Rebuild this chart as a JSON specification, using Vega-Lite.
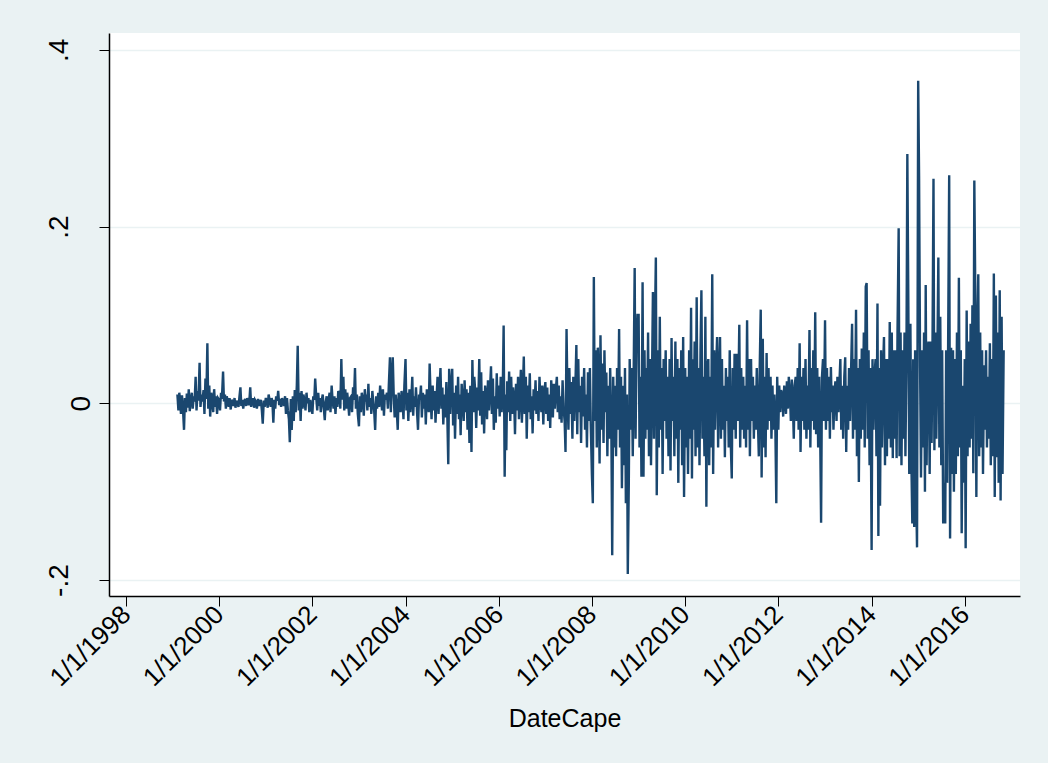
{
"$schema":"https://vega.github.io/schema/vega-lite/v6.json",
"width":911,"height":563,
"autosize":{"type":"none"},
"padding":{"left":109,"top":33,"right":28,"bottom":167},
"background":"#EAF2F3",
"config":{"view":{"fill":"white","stroke":null},"font":"Liberation Sans"},
"data":{"values":[
{"date":"1999-02-08","ret":0.010},{"date":"1999-02-16","ret":-0.008},{"date":"1999-02-23","ret":0.012},
{"date":"1999-03-01","ret":0.004},{"date":"1999-03-08","ret":-0.012},{"date":"1999-03-16","ret":0.009},{"date":"1999-03-23","ret":-0.004},
{"date":"1999-04-01","ret":-0.030},{"date":"1999-04-08","ret":0.006},{"date":"1999-04-16","ret":-0.010},{"date":"1999-04-23","ret":0.011},
{"date":"1999-05-01","ret":-0.005},{"date":"1999-05-08","ret":0.016},{"date":"1999-05-16","ret":-0.009},{"date":"1999-05-23","ret":0.004},
{"date":"1999-06-01","ret":0.012},{"date":"1999-06-08","ret":-0.006},{"date":"1999-06-16","ret":0.008},{"date":"1999-06-23","ret":0.002},
{"date":"1999-07-01","ret":0.030},{"date":"1999-07-08","ret":-0.008},{"date":"1999-07-16","ret":0.014},{"date":"1999-07-23","ret":0.003},
{"date":"1999-08-01","ret":0.046},{"date":"1999-08-08","ret":-0.004},{"date":"1999-08-16","ret":0.010},{"date":"1999-08-23","ret":0.002},
{"date":"1999-09-01","ret":0.015},{"date":"1999-09-08","ret":-0.012},{"date":"1999-09-16","ret":0.028},{"date":"1999-09-23","ret":0.005},
{"date":"1999-10-01","ret":0.068},{"date":"1999-10-08","ret":-0.006},{"date":"1999-10-16","ret":0.020},{"date":"1999-10-23","ret":-0.015},
{"date":"1999-11-01","ret":0.012},{"date":"1999-11-08","ret":0.004},{"date":"1999-11-16","ret":-0.010},{"date":"1999-11-23","ret":0.016},
{"date":"1999-12-01","ret":-0.004},{"date":"1999-12-08","ret":0.008},{"date":"1999-12-16","ret":-0.012},{"date":"1999-12-23","ret":0.006},
{"date":"2000-01-01","ret":0.004},{"date":"2000-01-08","ret":-0.008},{"date":"2000-01-16","ret":0.012},{"date":"2000-01-23","ret":0.005},
{"date":"2000-02-01","ret":0.036},{"date":"2000-02-08","ret":0.002},{"date":"2000-02-16","ret":0.010},{"date":"2000-02-23","ret":-0.006},
{"date":"2000-03-01","ret":0.008},{"date":"2000-03-08","ret":0.003},{"date":"2000-03-16","ret":-0.004},{"date":"2000-03-23","ret":0.006},
{"date":"2000-04-01","ret":-0.007},{"date":"2000-04-08","ret":0.004},{"date":"2000-04-16","ret":0.001},{"date":"2000-04-23","ret":-0.003},
{"date":"2000-05-01","ret":0.006},{"date":"2000-05-08","ret":-0.005},{"date":"2000-05-16","ret":0.003},{"date":"2000-05-23","ret":0.000},
{"date":"2000-06-01","ret":-0.004},{"date":"2000-06-08","ret":0.007},{"date":"2000-06-16","ret":0.018},{"date":"2000-06-23","ret":-0.003},
{"date":"2000-07-01","ret":0.004},{"date":"2000-07-08","ret":-0.006},{"date":"2000-07-16","ret":0.002},{"date":"2000-07-23","ret":0.005},
{"date":"2000-08-01","ret":-0.003},{"date":"2000-08-08","ret":0.006},{"date":"2000-08-16","ret":0.001},{"date":"2000-08-23","ret":-0.002},
{"date":"2000-09-01","ret":0.018},{"date":"2000-09-08","ret":-0.004},{"date":"2000-09-16","ret":0.003},{"date":"2000-09-23","ret":0.006},
{"date":"2000-10-01","ret":-0.005},{"date":"2000-10-08","ret":0.004},{"date":"2000-10-16","ret":0.002},{"date":"2000-10-23","ret":-0.006},
{"date":"2000-11-01","ret":0.005},{"date":"2000-11-08","ret":-0.003},{"date":"2000-11-16","ret":0.001},{"date":"2000-11-23","ret":0.004},
{"date":"2000-12-01","ret":-0.008},{"date":"2000-12-08","ret":-0.023},{"date":"2000-12-16","ret":0.003},{"date":"2000-12-23","ret":-0.004},
{"date":"2001-01-01","ret":0.006},{"date":"2001-01-08","ret":0.002},{"date":"2001-01-16","ret":-0.005},{"date":"2001-01-23","ret":0.010},
{"date":"2001-02-01","ret":0.003},{"date":"2001-02-08","ret":-0.004},{"date":"2001-02-16","ret":0.006},{"date":"2001-02-23","ret":-0.002},
{"date":"2001-03-01","ret":-0.022},{"date":"2001-03-08","ret":0.004},{"date":"2001-03-16","ret":-0.006},{"date":"2001-03-23","ret":0.008},
{"date":"2001-04-01","ret":0.003},{"date":"2001-04-08","ret":0.014},{"date":"2001-04-16","ret":-0.002},{"date":"2001-04-23","ret":0.005},
{"date":"2001-05-01","ret":-0.004},{"date":"2001-05-08","ret":0.006},{"date":"2001-05-16","ret":0.002},{"date":"2001-05-23","ret":-0.003},
{"date":"2001-06-01","ret":0.008},{"date":"2001-06-08","ret":-0.012},{"date":"2001-06-16","ret":0.006},{"date":"2001-06-23","ret":-0.008},
{"date":"2001-07-01","ret":-0.018},{"date":"2001-07-08","ret":-0.044},{"date":"2001-07-16","ret":0.005},{"date":"2001-07-23","ret":-0.030},
{"date":"2001-08-01","ret":0.008},{"date":"2001-08-08","ret":-0.020},{"date":"2001-08-16","ret":0.015},{"date":"2001-08-23","ret":-0.010},
{"date":"2001-09-01","ret":0.020},{"date":"2001-09-08","ret":0.065},{"date":"2001-09-16","ret":-0.008},{"date":"2001-09-23","ret":0.012},
{"date":"2001-10-01","ret":-0.020},{"date":"2001-10-08","ret":0.014},{"date":"2001-10-16","ret":-0.006},{"date":"2001-10-23","ret":0.010},
{"date":"2001-11-01","ret":0.002},{"date":"2001-11-08","ret":-0.008},{"date":"2001-11-16","ret":0.012},{"date":"2001-11-23","ret":0.000},
{"date":"2001-12-01","ret":0.006},{"date":"2001-12-08","ret":-0.010},{"date":"2001-12-16","ret":0.004},{"date":"2001-12-23","ret":-0.004},
{"date":"2002-01-01","ret":-0.012},{"date":"2002-01-08","ret":0.008},{"date":"2002-01-16","ret":0.004},{"date":"2002-01-23","ret":0.028},
{"date":"2002-02-01","ret":0.005},{"date":"2002-02-08","ret":-0.008},{"date":"2002-02-16","ret":0.012},{"date":"2002-02-23","ret":-0.003},
{"date":"2002-03-01","ret":0.006},{"date":"2002-03-08","ret":-0.010},{"date":"2002-03-16","ret":0.004},{"date":"2002-03-23","ret":0.010},
{"date":"2002-04-01","ret":-0.006},{"date":"2002-04-08","ret":-0.019},{"date":"2002-04-16","ret":0.002},{"date":"2002-04-23","ret":0.008},
{"date":"2002-05-01","ret":-0.008},{"date":"2002-05-08","ret":0.004},{"date":"2002-05-16","ret":0.012},{"date":"2002-05-23","ret":-0.010},
{"date":"2002-06-01","ret":0.020},{"date":"2002-06-08","ret":0.004},{"date":"2002-06-16","ret":-0.006},{"date":"2002-06-23","ret":0.008},
{"date":"2002-07-01","ret":-0.012},{"date":"2002-07-08","ret":0.006},{"date":"2002-07-16","ret":-0.004},{"date":"2002-07-23","ret":0.014},
{"date":"2002-08-01","ret":0.010},{"date":"2002-08-08","ret":-0.006},{"date":"2002-08-16","ret":0.050},{"date":"2002-08-23","ret":0.004},
{"date":"2002-09-01","ret":0.030},{"date":"2002-09-08","ret":-0.008},{"date":"2002-09-16","ret":0.016},{"date":"2002-09-23","ret":-0.006},
{"date":"2002-10-01","ret":0.012},{"date":"2002-10-08","ret":0.002},{"date":"2002-10-16","ret":-0.014},{"date":"2002-10-23","ret":0.006},
{"date":"2002-11-01","ret":0.008},{"date":"2002-11-08","ret":-0.010},{"date":"2002-11-16","ret":0.018},{"date":"2002-11-23","ret":0.004},
{"date":"2002-12-01","ret":0.040},{"date":"2002-12-08","ret":-0.006},{"date":"2002-12-16","ret":0.010},{"date":"2002-12-23","ret":-0.012},
{"date":"2003-01-01","ret":-0.026},{"date":"2003-01-08","ret":0.008},{"date":"2003-01-16","ret":-0.010},{"date":"2003-01-23","ret":0.012},
{"date":"2003-02-01","ret":0.004},{"date":"2003-02-08","ret":-0.014},{"date":"2003-02-16","ret":0.016},{"date":"2003-02-23","ret":0.002},
{"date":"2003-03-01","ret":0.010},{"date":"2003-03-08","ret":-0.008},{"date":"2003-03-16","ret":0.022},{"date":"2003-03-23","ret":-0.004},
{"date":"2003-04-01","ret":0.006},{"date":"2003-04-08","ret":-0.012},{"date":"2003-04-16","ret":0.014},{"date":"2003-04-23","ret":0.002},
{"date":"2003-05-01","ret":-0.010},{"date":"2003-05-08","ret":-0.030},{"date":"2003-05-16","ret":0.008},{"date":"2003-05-23","ret":-0.006},
{"date":"2003-06-01","ret":0.012},{"date":"2003-06-08","ret":-0.004},{"date":"2003-06-16","ret":0.020},{"date":"2003-06-23","ret":0.006},
{"date":"2003-07-01","ret":-0.008},{"date":"2003-07-08","ret":0.016},{"date":"2003-07-16","ret":-0.014},{"date":"2003-07-23","ret":0.010},
{"date":"2003-08-01","ret":0.004},{"date":"2003-08-08","ret":0.012},{"date":"2003-08-16","ret":-0.006},{"date":"2003-08-23","ret":0.020},
{"date":"2003-09-01","ret":0.052},{"date":"2003-09-08","ret":-0.010},{"date":"2003-09-16","ret":0.030},{"date":"2003-09-23","ret":0.052},
{"date":"2003-10-01","ret":0.006},{"date":"2003-10-08","ret":-0.016},{"date":"2003-10-16","ret":0.010},{"date":"2003-10-23","ret":-0.004},
{"date":"2003-11-01","ret":-0.030},{"date":"2003-11-08","ret":0.012},{"date":"2003-11-16","ret":0.002},{"date":"2003-11-23","ret":-0.010},
{"date":"2003-12-01","ret":0.014},{"date":"2003-12-08","ret":0.004},{"date":"2003-12-16","ret":-0.018},{"date":"2003-12-23","ret":0.020},
{"date":"2004-01-01","ret":0.050},{"date":"2004-01-08","ret":-0.008},{"date":"2004-01-16","ret":0.012},{"date":"2004-01-23","ret":-0.020},
{"date":"2004-02-01","ret":0.016},{"date":"2004-02-08","ret":-0.010},{"date":"2004-02-16","ret":0.006},{"date":"2004-02-23","ret":0.030},
{"date":"2004-03-01","ret":-0.014},{"date":"2004-03-08","ret":0.008},{"date":"2004-03-16","ret":-0.004},{"date":"2004-03-23","ret":0.018},
{"date":"2004-04-01","ret":-0.012},{"date":"2004-04-08","ret":-0.030},{"date":"2004-04-16","ret":0.010},{"date":"2004-04-23","ret":0.004},
{"date":"2004-05-01","ret":0.020},{"date":"2004-05-08","ret":-0.016},{"date":"2004-05-16","ret":0.012},{"date":"2004-05-23","ret":-0.006},
{"date":"2004-06-01","ret":0.010},{"date":"2004-06-08","ret":-0.024},{"date":"2004-06-16","ret":0.016},{"date":"2004-06-23","ret":0.004},
{"date":"2004-07-01","ret":-0.010},{"date":"2004-07-08","ret":0.045},{"date":"2004-07-16","ret":0.006},{"date":"2004-07-23","ret":-0.018},
{"date":"2004-08-01","ret":0.020},{"date":"2004-08-08","ret":-0.008},{"date":"2004-08-16","ret":0.014},{"date":"2004-08-23","ret":-0.022},
{"date":"2004-09-01","ret":0.008},{"date":"2004-09-08","ret":0.030},{"date":"2004-09-16","ret":-0.012},{"date":"2004-09-23","ret":0.016},
{"date":"2004-10-01","ret":0.040},{"date":"2004-10-08","ret":-0.006},{"date":"2004-10-16","ret":0.018},{"date":"2004-10-23","ret":-0.024},
{"date":"2004-11-01","ret":0.010},{"date":"2004-11-08","ret":-0.016},{"date":"2004-11-16","ret":0.024},{"date":"2004-11-23","ret":-0.010},
{"date":"2004-12-01","ret":-0.069},{"date":"2004-12-08","ret":0.039},{"date":"2004-12-16","ret":-0.012},{"date":"2004-12-23","ret":0.020},
{"date":"2005-01-01","ret":0.039},{"date":"2005-01-08","ret":-0.025},{"date":"2005-01-16","ret":0.012},{"date":"2005-01-23","ret":-0.040},
{"date":"2005-02-01","ret":0.020},{"date":"2005-02-08","ret":-0.012},{"date":"2005-02-16","ret":0.030},{"date":"2005-02-23","ret":-0.018},
{"date":"2005-03-01","ret":0.010},{"date":"2005-03-08","ret":-0.036},{"date":"2005-03-16","ret":0.022},{"date":"2005-03-23","ret":0.004},
{"date":"2005-04-01","ret":-0.020},{"date":"2005-04-08","ret":0.026},{"date":"2005-04-16","ret":-0.010},{"date":"2005-04-23","ret":0.016},
{"date":"2005-05-01","ret":-0.030},{"date":"2005-05-08","ret":0.012},{"date":"2005-05-16","ret":-0.045},{"date":"2005-05-23","ret":0.020},
{"date":"2005-06-01","ret":-0.055},{"date":"2005-06-08","ret":0.049},{"date":"2005-06-16","ret":-0.010},{"date":"2005-06-23","ret":0.030},
{"date":"2005-07-01","ret":0.012},{"date":"2005-07-08","ret":-0.028},{"date":"2005-07-16","ret":0.018},{"date":"2005-07-23","ret":-0.008},
{"date":"2005-08-01","ret":0.050},{"date":"2005-08-08","ret":-0.014},{"date":"2005-08-16","ret":0.035},{"date":"2005-08-23","ret":-0.024},
{"date":"2005-09-01","ret":0.014},{"date":"2005-09-08","ret":-0.034},{"date":"2005-09-16","ret":0.020},{"date":"2005-09-23","ret":0.006},
{"date":"2005-10-01","ret":-0.018},{"date":"2005-10-08","ret":0.026},{"date":"2005-10-16","ret":-0.008},{"date":"2005-10-23","ret":0.012},
{"date":"2005-11-01","ret":0.042},{"date":"2005-11-08","ret":-0.012},{"date":"2005-11-16","ret":0.028},{"date":"2005-11-23","ret":-0.030},
{"date":"2005-12-01","ret":0.008},{"date":"2005-12-08","ret":-0.022},{"date":"2005-12-16","ret":0.034},{"date":"2005-12-23","ret":-0.006},
{"date":"2006-01-01","ret":0.020},{"date":"2006-01-08","ret":-0.015},{"date":"2006-01-16","ret":0.030},{"date":"2006-01-23","ret":-0.010},
{"date":"2006-02-01","ret":0.012},{"date":"2006-02-08","ret":0.088},{"date":"2006-02-16","ret":-0.083},{"date":"2006-02-23","ret":0.010},
{"date":"2006-03-01","ret":-0.053},{"date":"2006-03-08","ret":0.025},{"date":"2006-03-16","ret":-0.010},{"date":"2006-03-23","ret":0.036},
{"date":"2006-04-01","ret":-0.020},{"date":"2006-04-08","ret":0.030},{"date":"2006-04-16","ret":-0.012},{"date":"2006-04-23","ret":0.018},
{"date":"2006-05-01","ret":0.006},{"date":"2006-05-08","ret":-0.035},{"date":"2006-05-16","ret":0.022},{"date":"2006-05-23","ret":-0.008},
{"date":"2006-06-01","ret":0.030},{"date":"2006-06-08","ret":-0.018},{"date":"2006-06-16","ret":0.012},{"date":"2006-06-23","ret":0.038},
{"date":"2006-07-01","ret":-0.022},{"date":"2006-07-08","ret":0.010},{"date":"2006-07-16","ret":0.053},{"date":"2006-07-23","ret":-0.012},
{"date":"2006-08-01","ret":0.030},{"date":"2006-08-08","ret":-0.040},{"date":"2006-08-16","ret":0.020},{"date":"2006-08-23","ret":-0.010},
{"date":"2006-09-01","ret":0.034},{"date":"2006-09-08","ret":-0.018},{"date":"2006-09-16","ret":0.008},{"date":"2006-09-23","ret":-0.034},
{"date":"2006-10-01","ret":0.016},{"date":"2006-10-08","ret":-0.008},{"date":"2006-10-16","ret":0.026},{"date":"2006-10-23","ret":-0.012},
{"date":"2006-11-01","ret":0.014},{"date":"2006-11-08","ret":-0.020},{"date":"2006-11-16","ret":0.030},{"date":"2006-11-23","ret":0.004},
{"date":"2006-12-01","ret":-0.010},{"date":"2006-12-08","ret":0.020},{"date":"2006-12-16","ret":-0.024},{"date":"2006-12-23","ret":0.012},
{"date":"2007-01-01","ret":0.024},{"date":"2007-01-08","ret":-0.012},{"date":"2007-01-16","ret":0.018},{"date":"2007-01-23","ret":-0.020},
{"date":"2007-02-01","ret":0.010},{"date":"2007-02-08","ret":-0.028},{"date":"2007-02-16","ret":0.026},{"date":"2007-02-23","ret":0.002},
{"date":"2007-03-01","ret":-0.016},{"date":"2007-03-08","ret":0.022},{"date":"2007-03-16","ret":-0.006},{"date":"2007-03-23","ret":0.014},
{"date":"2007-04-01","ret":0.030},{"date":"2007-04-08","ret":-0.010},{"date":"2007-04-16","ret":0.020},{"date":"2007-04-23","ret":-0.018},
{"date":"2007-05-01","ret":0.008},{"date":"2007-05-08","ret":-0.022},{"date":"2007-05-16","ret":0.026},{"date":"2007-05-23","ret":-0.004},
{"date":"2007-06-01","ret":-0.020},{"date":"2007-06-08","ret":-0.055},{"date":"2007-06-16","ret":0.084},{"date":"2007-06-23","ret":0.010},
{"date":"2007-07-01","ret":-0.030},{"date":"2007-07-08","ret":0.040},{"date":"2007-07-16","ret":-0.012},{"date":"2007-07-23","ret":0.024},
{"date":"2007-08-01","ret":-0.040},{"date":"2007-08-08","ret":0.030},{"date":"2007-08-16","ret":-0.020},{"date":"2007-08-23","ret":0.012},
{"date":"2007-09-01","ret":0.066},{"date":"2007-09-08","ret":-0.035},{"date":"2007-09-16","ret":0.050},{"date":"2007-09-23","ret":-0.010},
{"date":"2007-10-01","ret":0.020},{"date":"2007-10-08","ret":-0.045},{"date":"2007-10-16","ret":0.030},{"date":"2007-10-23","ret":-0.015},
{"date":"2007-11-01","ret":0.040},{"date":"2007-11-08","ret":-0.030},{"date":"2007-11-16","ret":0.010},{"date":"2007-11-23","ret":-0.050},
{"date":"2007-12-01","ret":0.035},{"date":"2007-12-08","ret":-0.020},{"date":"2007-12-16","ret":0.040},{"date":"2007-12-23","ret":-0.025},
{"date":"2008-01-01","ret":-0.082},{"date":"2008-01-08","ret":-0.113},{"date":"2008-01-16","ret":0.143},{"date":"2008-01-23","ret":-0.020},
{"date":"2008-02-01","ret":0.060},{"date":"2008-02-08","ret":-0.050},{"date":"2008-02-16","ret":0.063},{"date":"2008-02-23","ret":0.010},
{"date":"2008-03-01","ret":-0.068},{"date":"2008-03-08","ret":0.077},{"date":"2008-03-16","ret":-0.030},{"date":"2008-03-23","ret":0.045},
{"date":"2008-04-01","ret":-0.045},{"date":"2008-04-08","ret":0.060},{"date":"2008-04-16","ret":-0.010},{"date":"2008-04-23","ret":0.035},
{"date":"2008-05-01","ret":-0.060},{"date":"2008-05-08","ret":0.020},{"date":"2008-05-16","ret":-0.040},{"date":"2008-05-23","ret":0.040},
{"date":"2008-06-01","ret":-0.025},{"date":"2008-06-08","ret":-0.172},{"date":"2008-06-16","ret":0.030},{"date":"2008-06-23","ret":-0.050},
{"date":"2008-07-01","ret":0.020},{"date":"2008-07-08","ret":-0.060},{"date":"2008-07-16","ret":0.040},{"date":"2008-07-23","ret":-0.030},
{"date":"2008-08-01","ret":0.084},{"date":"2008-08-08","ret":-0.050},{"date":"2008-08-16","ret":0.030},{"date":"2008-08-23","ret":-0.096},
{"date":"2008-09-01","ret":0.020},{"date":"2008-09-08","ret":-0.070},{"date":"2008-09-16","ret":0.040},{"date":"2008-09-23","ret":-0.113},
{"date":"2008-10-01","ret":0.010},{"date":"2008-10-08","ret":-0.193},{"date":"2008-10-16","ret":-0.090},{"date":"2008-10-23","ret":0.050},
{"date":"2008-11-01","ret":-0.030},{"date":"2008-11-08","ret":0.040},{"date":"2008-11-16","ret":-0.060},{"date":"2008-11-23","ret":0.030},
{"date":"2008-12-01","ret":0.153},{"date":"2008-12-08","ret":-0.040},{"date":"2008-12-16","ret":0.070},{"date":"2008-12-23","ret":0.100},
{"date":"2009-01-01","ret":0.100},{"date":"2009-01-08","ret":-0.050},{"date":"2009-01-16","ret":0.030},{"date":"2009-01-23","ret":-0.083},
{"date":"2009-02-01","ret":0.137},{"date":"2009-02-08","ret":-0.083},{"date":"2009-02-16","ret":0.060},{"date":"2009-02-23","ret":-0.040},
{"date":"2009-03-01","ret":0.040},{"date":"2009-03-08","ret":-0.030},{"date":"2009-03-16","ret":0.080},{"date":"2009-03-23","ret":-0.060},
{"date":"2009-04-01","ret":0.050},{"date":"2009-04-08","ret":-0.070},{"date":"2009-04-16","ret":0.030},{"date":"2009-04-23","ret":0.126},
{"date":"2009-05-01","ret":-0.040},{"date":"2009-05-08","ret":0.080},{"date":"2009-05-16","ret":0.165},{"date":"2009-05-23","ret":-0.104},
{"date":"2009-06-01","ret":0.060},{"date":"2009-06-08","ret":-0.050},{"date":"2009-06-16","ret":0.098},{"date":"2009-06-23","ret":-0.030},
{"date":"2009-07-01","ret":0.040},{"date":"2009-07-08","ret":-0.080},{"date":"2009-07-16","ret":0.050},{"date":"2009-07-23","ret":-0.020},
{"date":"2009-08-01","ret":0.060},{"date":"2009-08-08","ret":-0.040},{"date":"2009-08-16","ret":0.030},{"date":"2009-08-23","ret":-0.060},
{"date":"2009-09-01","ret":0.050},{"date":"2009-09-08","ret":-0.076},{"date":"2009-09-16","ret":0.074},{"date":"2009-09-23","ret":-0.020},
{"date":"2009-10-01","ret":0.030},{"date":"2009-10-08","ret":-0.060},{"date":"2009-10-16","ret":0.070},{"date":"2009-10-23","ret":-0.040},
{"date":"2009-11-01","ret":0.050},{"date":"2009-11-08","ret":-0.090},{"date":"2009-11-16","ret":0.040},{"date":"2009-11-23","ret":-0.030},
{"date":"2009-12-01","ret":0.060},{"date":"2009-12-08","ret":-0.070},{"date":"2009-12-16","ret":0.075},{"date":"2009-12-23","ret":-0.106},
{"date":"2010-01-01","ret":0.040},{"date":"2010-01-08","ret":-0.050},{"date":"2010-01-16","ret":0.030},{"date":"2010-01-23","ret":-0.080},
{"date":"2010-02-01","ret":0.060},{"date":"2010-02-08","ret":-0.040},{"date":"2010-02-16","ret":0.108},{"date":"2010-02-23","ret":-0.085},
{"date":"2010-03-01","ret":0.050},{"date":"2010-03-08","ret":-0.030},{"date":"2010-03-16","ret":0.070},{"date":"2010-03-23","ret":-0.060},
{"date":"2010-04-01","ret":0.120},{"date":"2010-04-08","ret":-0.050},{"date":"2010-04-16","ret":0.040},{"date":"2010-04-23","ret":-0.070},
{"date":"2010-05-01","ret":0.060},{"date":"2010-05-08","ret":0.128},{"date":"2010-05-16","ret":-0.040},{"date":"2010-05-23","ret":0.030},
{"date":"2010-06-01","ret":-0.060},{"date":"2010-06-08","ret":0.098},{"date":"2010-06-16","ret":-0.117},{"date":"2010-06-23","ret":0.040},
{"date":"2010-07-01","ret":0.050},{"date":"2010-07-08","ret":-0.070},{"date":"2010-07-16","ret":0.030},{"date":"2010-07-23","ret":-0.050},
{"date":"2010-08-01","ret":0.146},{"date":"2010-08-08","ret":-0.080},{"date":"2010-08-16","ret":0.060},{"date":"2010-08-23","ret":-0.030},
{"date":"2010-09-01","ret":0.040},{"date":"2010-09-08","ret":0.075},{"date":"2010-09-16","ret":-0.050},{"date":"2010-09-23","ret":0.030},
{"date":"2010-10-01","ret":0.075},{"date":"2010-10-08","ret":-0.040},{"date":"2010-10-16","ret":0.050},{"date":"2010-10-23","ret":-0.030},
{"date":"2010-11-01","ret":0.020},{"date":"2010-11-08","ret":-0.061},{"date":"2010-11-16","ret":0.040},{"date":"2010-11-23","ret":-0.020},
{"date":"2010-12-01","ret":0.030},{"date":"2010-12-08","ret":-0.050},{"date":"2010-12-16","ret":0.060},{"date":"2010-12-23","ret":-0.040},
{"date":"2011-01-01","ret":-0.085},{"date":"2011-01-08","ret":0.040},{"date":"2011-01-16","ret":-0.030},{"date":"2011-01-23","ret":0.056},
{"date":"2011-02-01","ret":-0.040},{"date":"2011-02-08","ret":0.056},{"date":"2011-02-16","ret":-0.020},{"date":"2011-02-23","ret":0.030},
{"date":"2011-03-01","ret":0.089},{"date":"2011-03-08","ret":-0.050},{"date":"2011-03-16","ret":0.040},{"date":"2011-03-23","ret":-0.030},
{"date":"2011-04-01","ret":0.030},{"date":"2011-04-08","ret":-0.040},{"date":"2011-04-16","ret":0.020},{"date":"2011-04-23","ret":-0.050},
{"date":"2011-05-01","ret":0.094},{"date":"2011-05-08","ret":-0.030},{"date":"2011-05-16","ret":0.050},{"date":"2011-05-23","ret":-0.060},
{"date":"2011-06-01","ret":0.050},{"date":"2011-06-08","ret":-0.020},{"date":"2011-06-16","ret":0.030},{"date":"2011-06-23","ret":-0.040},
{"date":"2011-07-01","ret":0.020},{"date":"2011-07-08","ret":-0.030},{"date":"2011-07-16","ret":0.040},{"date":"2011-07-23","ret":-0.010},
{"date":"2011-08-01","ret":-0.060},{"date":"2011-08-08","ret":0.040},{"date":"2011-08-16","ret":0.106},{"date":"2011-08-23","ret":-0.084},
{"date":"2011-09-01","ret":0.073},{"date":"2011-09-08","ret":-0.050},{"date":"2011-09-16","ret":0.030},{"date":"2011-09-23","ret":-0.061},
{"date":"2011-10-01","ret":0.057},{"date":"2011-10-08","ret":-0.030},{"date":"2011-10-16","ret":0.040},{"date":"2011-10-23","ret":-0.020},
{"date":"2011-11-01","ret":0.030},{"date":"2011-11-08","ret":-0.040},{"date":"2011-11-16","ret":0.020},{"date":"2011-11-23","ret":-0.030},
{"date":"2011-12-01","ret":0.010},{"date":"2011-12-08","ret":-0.020},{"date":"2011-12-16","ret":-0.113},{"date":"2011-12-23","ret":0.030},
{"date":"2012-01-01","ret":-0.030},{"date":"2012-01-08","ret":0.020},{"date":"2012-01-16","ret":-0.010},{"date":"2012-01-23","ret":0.015},
{"date":"2012-02-01","ret":0.010},{"date":"2012-02-08","ret":-0.015},{"date":"2012-02-16","ret":0.020},{"date":"2012-02-23","ret":0.005},
{"date":"2012-03-01","ret":-0.012},{"date":"2012-03-08","ret":0.025},{"date":"2012-03-16","ret":-0.006},{"date":"2012-03-23","ret":0.030},
{"date":"2012-04-01","ret":0.010},{"date":"2012-04-08","ret":-0.020},{"date":"2012-04-16","ret":0.027},{"date":"2012-04-23","ret":0.005},
{"date":"2012-05-01","ret":-0.040},{"date":"2012-05-08","ret":0.020},{"date":"2012-05-16","ret":0.030},{"date":"2012-05-23","ret":-0.020},
{"date":"2012-06-01","ret":0.040},{"date":"2012-06-08","ret":-0.030},{"date":"2012-06-16","ret":0.068},{"date":"2012-06-23","ret":-0.055},
{"date":"2012-07-01","ret":0.030},{"date":"2012-07-08","ret":-0.020},{"date":"2012-07-16","ret":0.040},{"date":"2012-07-23","ret":-0.030},
{"date":"2012-08-01","ret":0.050},{"date":"2012-08-08","ret":-0.040},{"date":"2012-08-16","ret":0.020},{"date":"2012-08-23","ret":-0.030},
{"date":"2012-09-01","ret":0.083},{"date":"2012-09-08","ret":-0.050},{"date":"2012-09-16","ret":0.040},{"date":"2012-09-23","ret":-0.020},
{"date":"2012-10-01","ret":0.060},{"date":"2012-10-08","ret":-0.030},{"date":"2012-10-16","ret":0.103},{"date":"2012-10-23","ret":-0.035},
{"date":"2012-11-01","ret":0.040},{"date":"2012-11-08","ret":-0.050},{"date":"2012-11-16","ret":0.030},{"date":"2012-11-23","ret":-0.020},
{"date":"2012-12-01","ret":-0.135},{"date":"2012-12-08","ret":0.030},{"date":"2012-12-16","ret":0.050},{"date":"2012-12-23","ret":-0.020},
{"date":"2013-01-01","ret":0.094},{"date":"2013-01-08","ret":-0.030},{"date":"2013-01-16","ret":0.040},{"date":"2013-01-23","ret":-0.020},
{"date":"2013-02-01","ret":0.030},{"date":"2013-02-08","ret":-0.040},{"date":"2013-02-16","ret":0.041},{"date":"2013-02-23","ret":-0.010},
{"date":"2013-03-01","ret":0.020},{"date":"2013-03-08","ret":-0.030},{"date":"2013-03-16","ret":0.010},{"date":"2013-03-23","ret":0.025},
{"date":"2013-04-01","ret":-0.020},{"date":"2013-04-08","ret":0.030},{"date":"2013-04-16","ret":-0.010},{"date":"2013-04-23","ret":0.020},
{"date":"2013-05-01","ret":0.050},{"date":"2013-05-08","ret":-0.030},{"date":"2013-05-16","ret":0.020},{"date":"2013-05-23","ret":-0.040},
{"date":"2013-06-01","ret":0.030},{"date":"2013-06-08","ret":0.052},{"date":"2013-06-16","ret":-0.055},{"date":"2013-06-23","ret":0.020},
{"date":"2013-07-01","ret":-0.030},{"date":"2013-07-08","ret":0.040},{"date":"2013-07-16","ret":-0.020},{"date":"2013-07-23","ret":0.030},
{"date":"2013-08-01","ret":0.090},{"date":"2013-08-08","ret":-0.040},{"date":"2013-08-16","ret":0.050},{"date":"2013-08-23","ret":-0.030},
{"date":"2013-09-01","ret":0.106},{"date":"2013-09-08","ret":-0.060},{"date":"2013-09-16","ret":0.040},{"date":"2013-09-23","ret":-0.089},
{"date":"2013-10-01","ret":0.050},{"date":"2013-10-08","ret":-0.040},{"date":"2013-10-16","ret":0.062},{"date":"2013-10-23","ret":-0.030},
{"date":"2013-11-01","ret":0.080},{"date":"2013-11-08","ret":-0.050},{"date":"2013-11-16","ret":0.132},{"date":"2013-11-23","ret":0.136},
{"date":"2013-12-01","ret":-0.040},{"date":"2013-12-08","ret":0.060},{"date":"2013-12-16","ret":-0.070},{"date":"2013-12-23","ret":0.040},
{"date":"2014-01-01","ret":-0.166},{"date":"2014-01-08","ret":0.050},{"date":"2014-01-16","ret":-0.030},{"date":"2014-01-23","ret":0.030},
{"date":"2014-02-01","ret":0.050},{"date":"2014-02-08","ret":-0.060},{"date":"2014-02-16","ret":0.113},{"date":"2014-02-23","ret":-0.150},
{"date":"2014-03-01","ret":0.040},{"date":"2014-03-08","ret":-0.116},{"date":"2014-03-16","ret":0.060},{"date":"2014-03-23","ret":-0.050},
{"date":"2014-04-01","ret":0.040},{"date":"2014-04-08","ret":0.075},{"date":"2014-04-16","ret":-0.070},{"date":"2014-04-23","ret":0.050},
{"date":"2014-05-01","ret":-0.060},{"date":"2014-05-08","ret":0.050},{"date":"2014-05-16","ret":-0.040},{"date":"2014-05-23","ret":0.092},
{"date":"2014-06-01","ret":-0.050},{"date":"2014-06-08","ret":0.080},{"date":"2014-06-16","ret":-0.062},{"date":"2014-06-23","ret":0.060},
{"date":"2014-07-01","ret":-0.040},{"date":"2014-07-08","ret":0.060},{"date":"2014-07-16","ret":-0.062},{"date":"2014-07-23","ret":0.080},
{"date":"2014-08-01","ret":0.198},{"date":"2014-08-08","ret":-0.060},{"date":"2014-08-16","ret":0.080},{"date":"2014-08-23","ret":-0.070},
{"date":"2014-09-01","ret":0.060},{"date":"2014-09-08","ret":-0.040},{"date":"2014-09-16","ret":0.080},{"date":"2014-09-23","ret":-0.060},
{"date":"2014-10-01","ret":0.050},{"date":"2014-10-08","ret":0.282},{"date":"2014-10-16","ret":0.110},{"date":"2014-10-23","ret":-0.080},
{"date":"2014-11-01","ret":0.090},{"date":"2014-11-08","ret":-0.060},{"date":"2014-11-16","ret":-0.136},{"date":"2014-11-23","ret":0.050},
{"date":"2014-12-01","ret":-0.140},{"date":"2014-12-08","ret":0.060},{"date":"2014-12-16","ret":-0.100},{"date":"2014-12-23","ret":-0.163},
{"date":"2015-01-01","ret":0.365},{"date":"2015-01-08","ret":0.257},{"date":"2015-01-16","ret":0.040},{"date":"2015-01-23","ret":-0.084},
{"date":"2015-02-01","ret":0.060},{"date":"2015-02-08","ret":-0.050},{"date":"2015-02-16","ret":0.080},{"date":"2015-02-23","ret":-0.100},
{"date":"2015-03-01","ret":0.134},{"date":"2015-03-08","ret":-0.070},{"date":"2015-03-16","ret":0.050},{"date":"2015-03-23","ret":0.070},
{"date":"2015-04-01","ret":-0.080},{"date":"2015-04-08","ret":0.070},{"date":"2015-04-16","ret":-0.045},{"date":"2015-04-23","ret":0.060},
{"date":"2015-05-01","ret":0.254},{"date":"2015-05-08","ret":-0.053},{"date":"2015-05-16","ret":0.080},{"date":"2015-05-23","ret":-0.040},
{"date":"2015-06-01","ret":0.060},{"date":"2015-06-08","ret":0.165},{"date":"2015-06-16","ret":-0.050},{"date":"2015-06-23","ret":0.098},
{"date":"2015-07-01","ret":-0.070},{"date":"2015-07-08","ret":0.060},{"date":"2015-07-16","ret":-0.136},{"date":"2015-07-23","ret":-0.090},
{"date":"2015-08-01","ret":-0.136},{"date":"2015-08-08","ret":0.060},{"date":"2015-08-16","ret":-0.090},{"date":"2015-08-23","ret":0.050},
{"date":"2015-09-01","ret":0.258},{"date":"2015-09-08","ret":-0.153},{"date":"2015-09-16","ret":0.063},{"date":"2015-09-23","ret":-0.080},
{"date":"2015-10-01","ret":0.060},{"date":"2015-10-08","ret":-0.100},{"date":"2015-10-16","ret":0.050},{"date":"2015-10-23","ret":-0.080},
{"date":"2015-11-01","ret":0.080},{"date":"2015-11-08","ret":-0.060},{"date":"2015-11-16","ret":0.142},{"date":"2015-11-23","ret":-0.050},
{"date":"2015-12-01","ret":0.060},{"date":"2015-12-08","ret":-0.147},{"date":"2015-12-16","ret":0.020},{"date":"2015-12-23","ret":-0.090},
{"date":"2016-01-01","ret":0.050},{"date":"2016-01-08","ret":-0.164},{"date":"2016-01-16","ret":0.105},{"date":"2016-01-23","ret":-0.060},
{"date":"2016-02-01","ret":0.070},{"date":"2016-02-08","ret":-0.050},{"date":"2016-02-16","ret":0.090},{"date":"2016-02-23","ret":-0.040},
{"date":"2016-03-01","ret":0.111},{"date":"2016-03-08","ret":-0.079},{"date":"2016-03-16","ret":0.252},{"date":"2016-03-23","ret":0.134},
{"date":"2016-04-01","ret":-0.106},{"date":"2016-04-08","ret":0.080},{"date":"2016-04-16","ret":0.146},{"date":"2016-04-23","ret":-0.060},
{"date":"2016-05-01","ret":0.080},{"date":"2016-05-08","ret":-0.050},{"date":"2016-05-16","ret":0.060},{"date":"2016-05-23","ret":-0.080},
{"date":"2016-06-01","ret":0.043},{"date":"2016-06-08","ret":-0.030},{"date":"2016-06-16","ret":0.060},{"date":"2016-06-23","ret":-0.050},
{"date":"2016-07-01","ret":0.030},{"date":"2016-07-08","ret":-0.040},{"date":"2016-07-16","ret":0.068},{"date":"2016-07-23","ret":-0.070},
{"date":"2016-08-01","ret":0.050},{"date":"2016-08-08","ret":-0.060},{"date":"2016-08-16","ret":0.147},{"date":"2016-08-23","ret":-0.106},
{"date":"2016-09-01","ret":0.122},{"date":"2016-09-08","ret":-0.061},{"date":"2016-09-16","ret":0.080},{"date":"2016-09-23","ret":-0.090},
{"date":"2016-10-01","ret":0.128},{"date":"2016-10-08","ret":-0.110},{"date":"2016-10-16","ret":0.098},{"date":"2016-10-23","ret":-0.080},
{"date":"2016-11-01","ret":0.060}
]},
"mark":{"type":"line","color":"#1a476f","strokeWidth":2.4},
"encoding":{
"x":{"field":"date","type":"temporal",
"scale":{"domain":[{"year":1997,"month":8,"date":21},{"year":2017,"month":3,"date":9}]},
"axis":{"values":[{"year":1998,"month":1,"date":1},{"year":2000,"month":1,"date":1},{"year":2002,"month":1,"date":1},{"year":2004,"month":1,"date":1},{"year":2006,"month":1,"date":1},{"year":2008,"month":1,"date":1},{"year":2010,"month":1,"date":1},{"year":2012,"month":1,"date":1},{"year":2014,"month":1,"date":1},{"year":2016,"month":1,"date":1}],
"labelExpr":"'1/1/' + timeFormat(datum.value, '%Y')",
"labelAngle":-45,"labelAlign":"right","labelBaseline":"middle","labelFontSize":26,"labelColor":"black","labelPadding":4,"labelOverlap":false,"labelFlush":false,
"tickSize":10,"tickColor":"black","tickWidth":1,"domainColor":"black","domainWidth":1.5,"grid":false,
"title":"DateCape","titleFontSize":25,"titleFontWeight":"normal","titleColor":"black","titlePadding":16}},
"y":{"field":"ret","type":"quantitative",
"scale":{"domain":[-0.218,0.419],"nice":false,"zero":false},
"axis":{"values":[-0.2,0,0.2,0.4],
"labelExpr":"datum.value == 0 ? ['', '0'] : (datum.value < 0 ? '-.' : '.') + format(abs(datum.value)*10, 'd')",
"labelAngle":-90,"labelAlign":"center","labelBaseline":"alphabetic","labelLineHeight":22,"labelFontSize":28,"labelColor":"black","labelPadding":32,
"tickSize":10,"tickColor":"black","tickWidth":1,"domainColor":"black","domainWidth":1.5,
"grid":true,"gridColor":"#EAF2F3","gridWidth":1.5,"title":null}}
}
}
